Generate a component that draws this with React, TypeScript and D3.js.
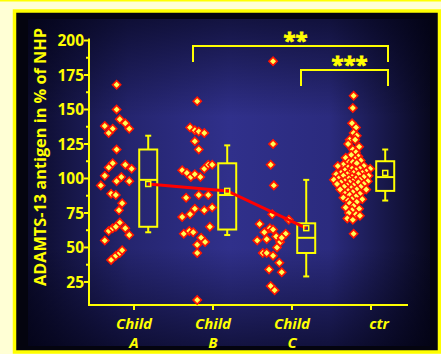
import React from 'react';
import * as d3 from 'd3';

// categories and their two-line tick labels
const groups = ['Child A', 'Child B', 'Child C', 'ctr'];
const groupLabels = [['Child', 'A'], ['Child', 'B'], ['Child', 'C'], ['ctr']];

// single values: [jitter offset in category units, % of NHP]
const childA: [number, number][] = [
  [-0.22, 168], [-0.22, 150], [-0.18, 143], [-0.11, 140], [-0.06, 136], [-0.37, 138],
  [-0.27, 136], [-0.32, 133], [-0.22, 121], [-0.27, 111], [-0.32, 108], [-0.11, 110],
  [-0.03, 107], [-0.37, 102], [-0.16, 101], [-0.22, 98], [-0.06, 98], [-0.42, 95],
  [-0.29, 89], [-0.23, 88], [-0.15, 82], [-0.19, 77], [-0.18, 68], [-0.32, 62],
  [-0.27, 64], [-0.23, 65], [-0.11, 64], [-0.06, 59], [-0.37, 55], [-0.29, 41],
  [-0.23, 44], [-0.18, 46], [-0.15, 48],
];
const childB: [number, number][] = [
  [-0.2, 156], [-0.29, 137], [-0.23, 135], [-0.18, 134], [-0.11, 133], [-0.23, 127],
  [-0.18, 121], [-0.39, 106], [-0.33, 104], [-0.28, 101], [-0.23, 103], [-0.16, 101],
  [-0.11, 107], [-0.06, 110], [-0.01, 110], [-0.34, 86], [-0.18, 88], [-0.06, 88],
  [-0.39, 72], [-0.29, 74], [-0.23, 78], [-0.11, 77], [-0.01, 79], [-0.04, 65],
  [-0.37, 60], [-0.3, 62], [-0.25, 61], [-0.15, 57], [-0.1, 54], [-0.2, 52],
  [-0.2, 46], [-0.2, 12],
];
const childC: [number, number][] = [
  [-0.24, 185], [-0.24, 125], [-0.27, 110], [-0.23, 95], [-0.25, 74], [-0.04, 70],
  [-0.41, 67], [-0.28, 64], [-0.24, 63], [-0.35, 61], [-0.08, 60], [-0.44, 55],
  [-0.32, 56], [-0.2, 58], [-0.15, 54], [-0.13, 57], [-0.19, 50], [-0.37, 46],
  [-0.32, 46], [-0.24, 44], [-0.16, 39], [-0.29, 34], [-0.13, 32], [-0.27, 22],
  [-0.22, 19],
];
const ctr: [number, number][] = [
  [-0.22, 160], [-0.23, 151], [-0.24, 140], [-0.19, 137], [-0.22, 133], [-0.18, 131],
  [-0.27, 128], [-0.2, 128], [-0.29, 125], [-0.15, 123], [-0.23, 121], [-0.19, 119],
  [-0.25, 117], [-0.16, 116], [-0.32, 115], [-0.2, 114], [-0.13, 113], [-0.28, 112],
  [-0.23, 112], [-0.18, 111], [-0.35, 110], [-0.42, 109], [-0.09, 109], [-0.01, 107],
  [-0.29, 108], [-0.24, 107], [-0.14, 107], [-0.33, 106], [-0.19, 106], [-0.06, 105],
  [-0.38, 104], [-0.27, 104], [-0.22, 104], [-0.11, 104], [-0.44, 103], [-0.3, 103],
  [-0.16, 103], [-0.03, 102], [-0.35, 102], [-0.24, 101], [-0.09, 101], [-0.41, 100],
  [-0.28, 100], [-0.19, 100], [-0.14, 99], [-0.47, 99], [-0.33, 98], [-0.23, 98],
  [-0.04, 98], [-0.38, 97], [-0.27, 97], [-0.16, 97], [-0.09, 96], [-0.43, 96],
  [-0.3, 95], [-0.22, 95], [-0.13, 94], [-0.34, 94], [-0.25, 93], [-0.39, 92],
  [-0.18, 92], [-0.06, 92], [-0.29, 91], [-0.23, 90], [-0.33, 89], [-0.14, 89],
  [-0.27, 88], [-0.19, 87], [-0.35, 86], [-0.24, 85], [-0.11, 85], [-0.29, 84],
  [-0.18, 83], [-0.27, 82], [-0.22, 80], [-0.32, 79], [-0.15, 78], [-0.24, 77],
  [-0.28, 75], [-0.19, 74], [-0.14, 73], [-0.3, 71], [-0.23, 70], [-0.22, 60],
];
const series = [childA, childB, childC, ctr];

// box plot statistics per group
const boxLow = [61, 59, 29, 84];
const boxQ1 = [65, 63, 46, 91];
const boxMedian = [99, 88, 57, 101];
const boxQ3 = [121, 111, 67.5, 112.5];
const boxHigh = [131, 124, 99, 121];
const boxMean = [96, 91, 64, 104];

const yTicks = [25, 50, 75, 100, 125, 150, 175, 200];
const yMinorTicks = [37.5, 62.5, 87.5, 112.5, 137.5, 162.5, 187.5];

// significance brackets (group indexes)
const bracketFrom = [1, 2];
const bracketTo = [3, 3];
const bracketLabels = ['**', '***'];
const bracketLevels = [196, 178.6];

const W = 441;
const H = 354;
const YEL = '#ffff00';
const FONT = "'Open Sans', 'DejaVu Sans', sans-serif";

const App = () => {
  const x = d3.scaleLinear().domain([0, 3]).range([134, 371]);
  const y = d3.scaleLinear().domain([8.3, 200]).range([305, 40.5]);
  const axisX0 = 89;
  const axisX1 = 408;
  const axisY = y(8.3);
  const boxOff = 0.18;
  const boxW = 18;
  const capW = 6;

  const diamond = d3.symbol(d3.symbolSquare, 34)();
  const meanLine = d3.line<number>()
    .x((_, i) => x(i + boxOff))
    .y(d => y(d))(boxMean.slice(0, 3));

  return (
    <svg width={W} height={H} style={{ position: 'absolute', left: 0, top: 0 }}>
      <defs>
        <linearGradient id="hg" x1="0" x2="1" y1="0" y2="0">
          <stop offset="0" stopColor="#0b0b2a" />
          <stop offset="0.25" stopColor="#25256f" />
          <stop offset="0.5" stopColor="#30308b" />
          <stop offset="0.75" stopColor="#2b2b7e" />
          <stop offset="1" stopColor="#08081f" />
        </linearGradient>
        <linearGradient id="vg" x1="0" x2="0" y1="0" y2="1">
          <stop offset="0" stopColor="#000010" stopOpacity="0.6" />
          <stop offset="0.3" stopColor="#000010" stopOpacity="0" />
          <stop offset="0.7" stopColor="#000010" stopOpacity="0" />
          <stop offset="1" stopColor="#000010" stopOpacity="0.6" />
        </linearGradient>
      </defs>
      <rect x={0} y={0} width={W} height={H} fill="#ffffd5" />
      <rect x={0} y={0} width={W} height={1.5} fill={YEL} />
      <rect x={14.5} y={11} width={425} height={341} fill="#04040f" stroke={YEL} strokeWidth={3.5} />
      <rect x={28} y={19} width={402} height={327} fill="url(#hg)" />
      <rect x={28} y={19} width={402} height={327} fill="url(#vg)" />

      {/* axes */}
      <g stroke={YEL} strokeWidth={2} fill="none">
        <line x1={axisX0} x2={axisX0} y1={y(200) - 2} y2={axisY} />
        <line x1={axisX0 - 1} x2={axisX1} y1={axisY} y2={axisY} />
        {yTicks.map(t => <line key={t} x1={axisX0 - 5} x2={axisX0} y1={y(t)} y2={y(t)} />)}
        {yMinorTicks.map(t => <line key={t} x1={axisX0 - 3} x2={axisX0} y1={y(t)} y2={y(t)} />)}
        {groups.map((g, i) => <line key={g} x1={x(i)} x2={x(i)} y1={axisY} y2={axisY + 5} />)}
      </g>
      <g fill={YEL} fontFamily={FONT} fontWeight={700} fontSize={15.5}>
        {yTicks.map(t => (
          <text key={t} x={axisX0 - 5} y={y(t)} dy="0.36em" textAnchor="end">{t}</text>
        ))}
        <text transform={`translate(46,157) rotate(-90)`} textAnchor="middle" fontSize={16.3}>
          ADAMTS-13 antigen in % of NHP
        </text>
      </g>
      <g fill={YEL} fontFamily={FONT} fontWeight={700} fontStyle="italic" fontSize={15} textAnchor="middle">
        {groupLabels.map((lines, i) => (
          <text key={i} x={x(i) + (i === 3 ? 8 : 0)} y={329}>
            {lines.map((l, j) => (
              <tspan key={j} x={x(i) + (i === 3 ? 8 : 0)} dy={j === 0 ? 0 : 19}>{l}</tspan>
            ))}
          </text>
        ))}
      </g>

      {/* individual values */}
      <g fill="#ffff55" stroke="#ff1500" strokeWidth={1.6}>
        {series.map((pts, i) =>
          pts.map((p, k) => (
            <path key={`${i}-${k}`} d={diamond || ''}
              transform={`translate(${x(i + p[0])},${y(p[1])}) rotate(45)`} />
          ))
        )}
      </g>

      {/* box plots */}
      <g stroke={YEL} strokeWidth={2} fill="none">
        {groups.map((g, i) => {
          const cx = x(i + boxOff);
          return (
            <g key={g}>
              <line x1={cx} x2={cx} y1={y(boxHigh[i])} y2={y(boxQ3[i])} />
              <line x1={cx} x2={cx} y1={y(boxQ1[i])} y2={y(boxLow[i])} />
              <line x1={cx - capW / 2} x2={cx + capW / 2} y1={y(boxHigh[i])} y2={y(boxHigh[i])} />
              <line x1={cx - capW / 2} x2={cx + capW / 2} y1={y(boxLow[i])} y2={y(boxLow[i])} />
              <rect x={cx - boxW / 2} y={y(boxQ3[i])} width={boxW} height={y(boxQ1[i]) - y(boxQ3[i])} />
              <line x1={cx - boxW / 2} x2={cx + boxW / 2} y1={y(boxMedian[i])} y2={y(boxMedian[i])} />
            </g>
          );
        })}
      </g>
      <path d={meanLine || ''} stroke="#ff0000" strokeWidth={3} fill="none" />
      <g stroke={YEL} strokeWidth={1.5} fill="none">
        {groups.map((g, i) => (
          <rect key={g} x={x(i + boxOff) - 2.5} y={y(boxMean[i]) - 2.5} width={5} height={5} />
        ))}
      </g>

      {/* significance brackets */}
      {bracketFrom.map((f, i) => {
        const x0 = x(f) + (f === 1 ? -20 : 9);
        const x1 = x(bracketTo[i]) + 17;
        const yb = y(bracketLevels[i]);
        return (
          <g key={i}>
            <path d={`M${x0},${yb + 16}V${yb}H${x1}V${yb + 16}`} stroke={YEL} strokeWidth={2} fill="none" />
            <text x={(x0 + x1) / 2 + 5} y={yb + 2} textAnchor="middle" fill={YEL} stroke={YEL}
              strokeWidth={0.8} fontFamily={FONT} fontWeight={700} fontSize={22}>
              {bracketLabels[i]}
            </text>
          </g>
        );
      })}
    </svg>
  );
};

export default App;
